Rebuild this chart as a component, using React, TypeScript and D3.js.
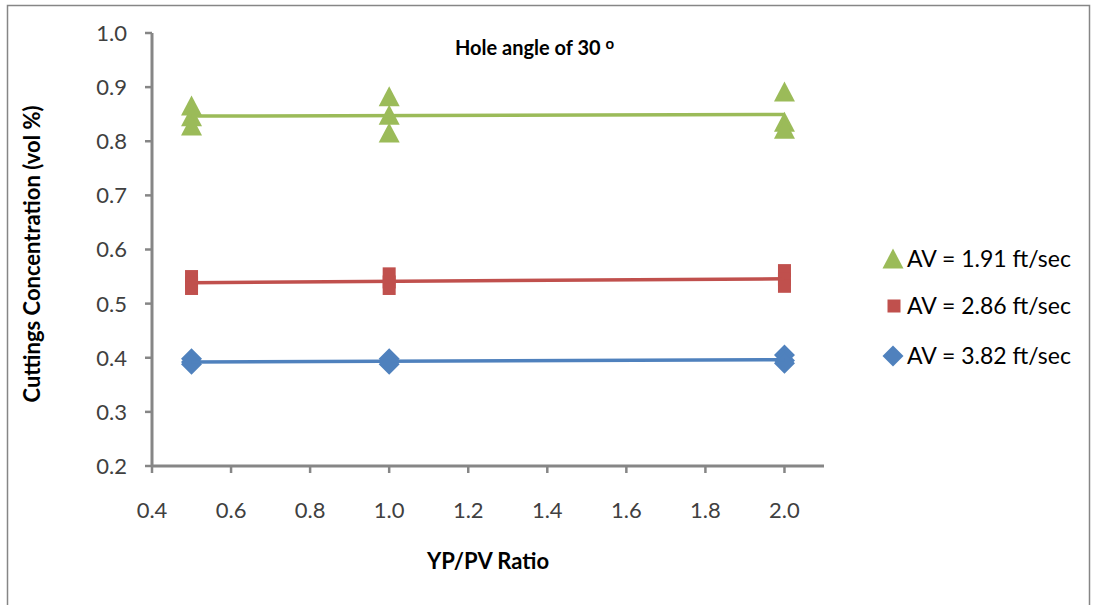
import React from "react";
import * as d3 from "d3";

// YP/PV ratios tested
const ratios = [0.5, 1.0, 2.0];

// Cuttings concentration readings (vol %), three runs per ratio
const av191 = [
  [0.865, 0.845, 0.828],
  [0.882, 0.848, 0.815],
  [0.891, 0.835, 0.822],
];
const av286 = [
  [0.550, 0.538, 0.528],
  [0.555, 0.540, 0.528],
  [0.561, 0.545, 0.532],
];
const av382 = [
  [0.398, 0.392, 0.388],
  [0.398, 0.392, 0.388],
  [0.405, 0.395, 0.390],
];

const seriesNames = ["AV = 1.91 ft/sec", "AV = 2.86 ft/sec", "AV = 3.82 ft/sec"];
const xTicks = [0.4, 0.6, 0.8, 1.0, 1.2, 1.4, 1.6, 1.8, 2.0];
const yTicks = [0.2, 0.3, 0.4, 0.5, 0.6, 0.7, 0.8, 0.9, 1.0];

const W = 1096;
const H = 605;
const FONT = "Lato, 'Open Sans', sans-serif";
const AXIS = "#868686";

type Shape = "triangle" | "square" | "diamond";

const series: { name: string; values: number[][]; color: string; shape: Shape }[] = [
  { name: seriesNames[0], values: av191, color: "#9BBB59", shape: "triangle" },
  { name: seriesNames[1], values: av286, color: "#C0504D", shape: "square" },
  { name: seriesNames[2], values: av382, color: "#4F81BD", shape: "diamond" },
];

function marker(shape: Shape, cx: number, cy: number, color: string, key: string) {
  if (shape === "triangle") {
    const s = 10.5;
    return (
      <path
        key={key}
        d={`M${cx},${cy - s}L${cx + s},${cy + s * 0.9}L${cx - s},${cy + s * 0.9}Z`}
        fill={color}
      />
    );
  }
  if (shape === "square") {
    const s = 6.5;
    return <rect key={key} x={cx - s} y={cy - s} width={s * 2} height={s * 2} fill={color} />;
  }
  const s = 10.5;
  return (
    <path
      key={key}
      d={`M${cx},${cy - s}L${cx + s},${cy}L${cx},${cy + s}L${cx - s},${cy}Z`}
      fill={color}
    />
  );
}

// least-squares linear trend through all readings of one series
function trend(values: number[][]) {
  const pts: [number, number][] = [];
  values.forEach((row, i) => row.forEach((v) => pts.push([ratios[i], v])));
  const mx = d3.mean(pts, (p) => p[0])!;
  const my = d3.mean(pts, (p) => p[1])!;
  const sxy = d3.sum(pts, (p) => (p[0] - mx) * (p[1] - my));
  const sxx = d3.sum(pts, (p) => (p[0] - mx) ** 2);
  const b = sxy / sxx;
  const a = my - b * mx;
  const x0 = d3.min(ratios)!;
  const x1 = d3.max(ratios)!;
  return [
    [x0, a + b * x0],
    [x1, a + b * x1],
  ] as [number, number][];
}

export default function App() {
  const x = d3.scaleLinear().domain([0.4, 2.1]).range([152, 824]);
  const y = d3.scaleLinear().domain([0.2, 1.0]).range([466, 33]);
  const line = d3
    .line<[number, number]>()
    .x((d) => x(d[0]))
    .y((d) => y(d[1]));

  return (
    <svg
      width={W}
      height={H}
      style={{ position: "absolute", left: 0, top: 0, background: "#fff" }}
      fontFamily={FONT}
    >
      <rect x={7.5} y={5.5} width={1082} height={640} fill="#fff" stroke="#868686" strokeWidth={1.5} />

      {/* title */}
      <text x={455} y={55} fontSize={20} fontWeight="bold" fill="#000">
        Hole angle of 30 <tspan dy={-6} fontSize={15}>o</tspan>
      </text>

      {/* y axis */}
      <line x1={152} x2={152} y1={y(1.0)} y2={y(0.2)} stroke={AXIS} strokeWidth={3} />
      {yTicks.map((t) => (
        <g key={`yt${t}`}>
          <line x1={145} x2={152} y1={y(t)} y2={y(t)} stroke={AXIS} strokeWidth={2.5} />
          <text x={127} y={y(t)} dy="0.36em" textAnchor="end" fontSize={22} fill="#404040">
            {t.toFixed(1)}
          </text>
        </g>
      ))}

      {/* x axis */}
      <line x1={x(0.4)} x2={x(2.1)} y1={466} y2={466} stroke={AXIS} strokeWidth={3} />
      {xTicks.map((t) => (
        <g key={`xt${t}`}>
          <line x1={x(t)} x2={x(t)} y1={466} y2={473} stroke={AXIS} strokeWidth={2.5} />
          <text x={x(t)} y={518} textAnchor="middle" fontSize={22} fill="#404040">
            {t.toFixed(1)}
          </text>
        </g>
      ))}

      {/* axis titles */}
      <text x={488} y={569} textAnchor="middle" fontSize={22} fontWeight="bold" fill="#000">
        YP/PV Ratio
      </text>
      <text
        transform="translate(40,254) rotate(-90)"
        textAnchor="middle"
        fontSize={22}
        fontWeight="bold"
        fill="#000"
      >
        Cuttings Concentration (vol %)
      </text>

      {/* data: markers then trend lines */}
      {series.map((s) => (
        <g key={s.name}>
          {s.values.map((row, i) =>
            row.map((v, j) => marker(s.shape, x(ratios[i]), y(v), s.color, `${s.name}-${i}-${j}`))
          )}
          <path d={line(trend(s.values)) ?? ""} stroke={s.color} strokeWidth={3.5} fill="none" />
        </g>
      ))}

      {/* legend */}
      {series.map((s, i) => {
        const ly = [259, 306, 356][i];
        return (
          <g key={`lg${i}`}>
            {s.shape === "triangle"
              ? marker("triangle", 893, ly, s.color, "m")
              : s.shape === "square"
              ? marker("square", 894, ly, s.color, "m")
              : marker("diamond", 893, ly, s.color, "m")}
            <text x={907} y={ly} dy="0.36em" fontSize={23} fill="#000">
              {s.name}
            </text>
          </g>
        );
      })}
    </svg>
  );
}
